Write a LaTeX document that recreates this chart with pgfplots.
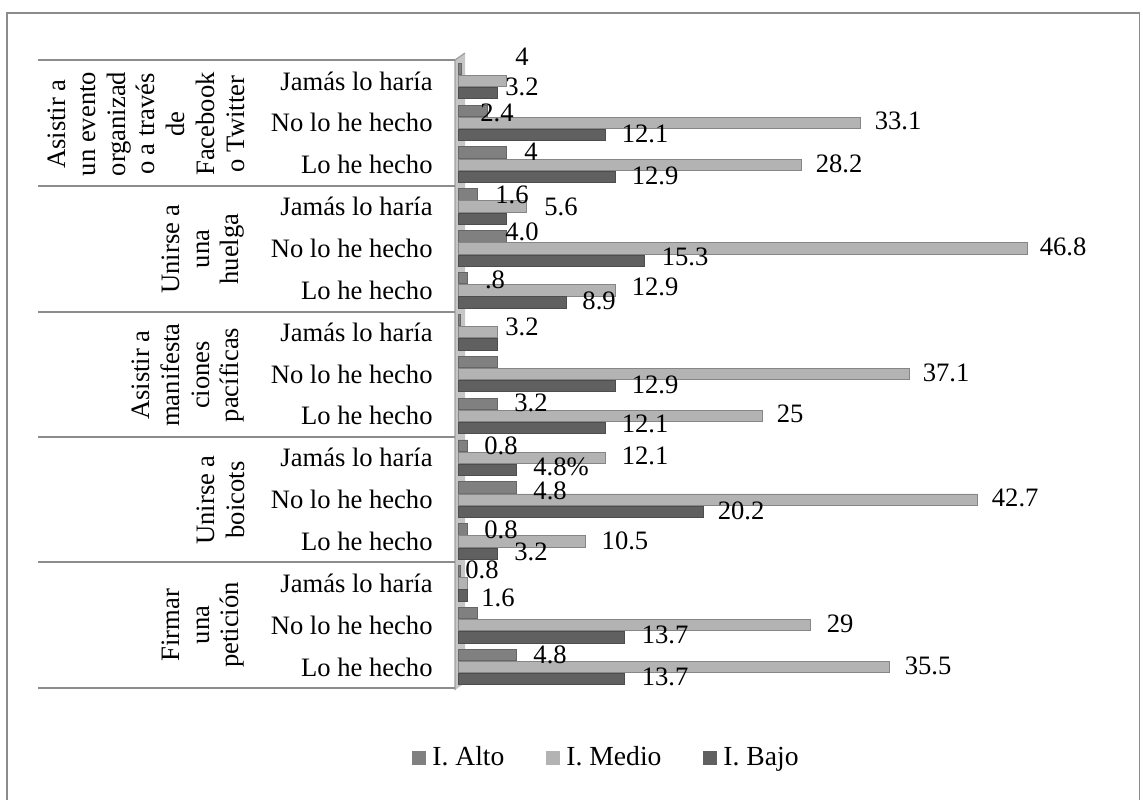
\documentclass[border=0pt]{standalone}
\usepackage{pgfplots}
\pgfplotsset{compat=1.18}
\usepackage{fontspec}
\setmainfont{Liberation Serif}
\definecolor{alto}{HTML}{808080}
\definecolor{medio}{HTML}{B3B3B3}
\definecolor{bajo}{HTML}{606060}
\definecolor{frame}{HTML}{8C8C8C}
\newcommand{\lf}{\fontsize{13.3}{14.9}\selectfont}
\begin{document}
\begin{tikzpicture}
\useasboundingbox (0,0) rectangle (571.5pt,399.5pt);
% outer frame
\draw[frame, line width=0.8pt] (3.5pt,-5pt) rectangle (569.8pt,393pt);
% wall
\fill[gray!45] (227.5pt,369.5pt) -- (232.5pt,373pt) -- (232.5pt,58pt) -- (227.5pt,54.5pt) -- cycle;
\draw[gray!75, line width=0.6pt] (227.5pt,54.5pt) -- (227.5pt,369.5pt) -- (232.5pt,373pt);
% group separators
\foreach \yy in {369.5,306.5,243.5,181,118.5,55.5}{
  \draw[frame, line width=0.8pt] (19pt,\yy pt) -- (227.5pt,\yy pt);
}
% group labels
\begin{scope}[every node/.style={rotate=90, anchor=south, inner sep=0pt, align=center, font=\lf}]
\node at (122.5pt,337.5pt) {Asistir a\\un evento\\organizad\\o a través\\de\\Facebook\\o Twitter};
\node at (122.5pt,275pt) {Unirse a\\una\\huelga};
\node at (122.5pt,212pt) {Asistir a\\manifesta\\ciones\\pacíficas};
\node at (122.5pt,149.5pt) {Unirse a\\boicots};
\node at (122.5pt,87pt) {Firmar\\una\\petición};
\end{scope}
\begin{axis}[
  at={(229pt,55.5pt)}, anchor=south west,
  scale only axis, width=334.5pt, height=314pt,
  xmin=0, xmax=55, ymin=-0.5, ymax=14.5,
  y dir=reverse, clip=false,
  hide x axis,
  axis line style={draw=none},
  ytick={0,...,14}, ytick style={draw=none}, major tick length=0pt,
  yticklabels={Jamás lo haría,No lo he hecho,Lo he hecho,Jamás lo haría,No lo he hecho,Lo he hecho,Jamás lo haría,No lo he hecho,Lo he hecho,Jamás lo haría,No lo he hecho,Lo he hecho,Jamás lo haría,No lo he hecho,Lo he hecho},
  yticklabel style={font=\lf, inner sep=0pt, xshift=-12.5pt, anchor=east},
  legend columns=3,
  legend style={draw=none, fill=none, at={(-0.0688,-0.111)}, anchor=west, inner sep=0pt,
    font=\fontsize{13.8}{15}\selectfont, nodes={inner sep=0pt},
    /tikz/every odd column/.append style={column sep=3pt},
    /tikz/every even column/.append style={column sep=21pt}},
  legend image code/.code={\fill[#1, draw=none] (0pt,-3.5pt) rectangle (7pt,3.5pt);},
]
\addplot[xbar, bar width=0.27, bar shift=-0.29, fill=alto, draw=alto!80!black, line width=0.4pt] coordinates {
(0.3,0) (2.4,1) (4,2) (1.6,3) (4.0,4) (0.8,5) (0.2,6) (3.2,7) (3.2,8) (0.8,9) (4.8,10) (0.8,11) (0.2,12) (1.6,13) (4.8,14)};
\addlegendentry{I. Alto}
\addplot[xbar, bar width=0.27, bar shift=0, fill=medio, draw=medio!75!black, line width=0.4pt] coordinates {
(4,0) (33.1,1) (28.2,2) (5.6,3) (46.8,4) (12.9,5) (3.2,6) (37.1,7) (25,8) (12.1,9) (42.7,10) (10.5,11) (0.8,12) (29,13) (35.5,14)};
\addlegendentry{I. Medio}
\addplot[xbar, bar width=0.27, bar shift=0.29, fill=bajo, draw=bajo!80!black, line width=0.4pt] coordinates {
(3.2,0) (12.1,1) (12.9,2) (4.0,3) (15.3,4) (8.9,5) (3.2,6) (12.9,7) (12.1,8) (4.8,9) (20.2,10) (3.2,11) (0.8,12) (13.7,13) (13.7,14)};
\addlegendentry{I. Bajo}
% data labels
\addplot[only marks, mark=none, forget plot, point meta=explicit symbolic,
  nodes near coords, nodes near coords align={center},
  every node near coord/.append style={font=\lf, inner sep=0pt, anchor=center, text=black}]
table[meta=lab, row sep=\\] {
x y lab\\
5.26 -0.572 4\\
5.26 0.145 3.2\\
3.21 0.766 2.4\\
36.18 0.957 33.1\\
15.38 1.267 12.1\\
6.00 1.697 4\\
31.33 1.984 28.2\\
16.20 2.270 12.9\\
4.44 2.724 1.6\\
8.47 3.011 5.6\\
5.26 3.608 4.0\\
49.75 3.966 46.8\\
18.67 4.205 15.3\\
3.04 4.754 .8\\
16.20 4.922 12.9\\
11.60 5.256 8.9\\
5.26 5.877 3.2\\
40.13 6.976 37.1\\
16.20 7.262 12.9\\
6.00 7.692 3.2\\
27.30 7.955 25\\
15.38 8.194 12.1\\
3.54 8.719 0.8\\
15.38 8.958 12.1\\
8.47 9.22 4.8\%\\
7.57 9.80 4.8\\
45.81 9.961 42.7\\
23.27 10.272 20.2\\
3.54 10.725 0.8\\
13.73 10.988 10.5\\
6.00 11.251 3.2\\
1.97 11.681 0.8\\
3.29 12.349 1.6\\
31.41 12.970 29\\
17.02 13.233 13.7\\
7.57 13.711 4.8\\
38.65 13.973 35.5\\
17.02 14.236 13.7\\
};
\end{axis}
\end{tikzpicture}
\end{document}
